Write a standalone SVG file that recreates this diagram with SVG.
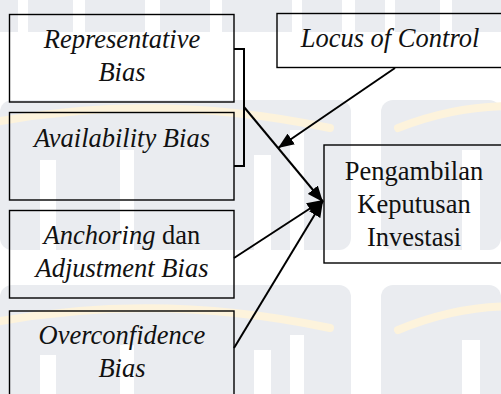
<svg xmlns="http://www.w3.org/2000/svg" width="501" height="394" viewBox="0 0 501 394">
  <style>
    .box { fill: none; stroke: #000; stroke-width: 1.4; }
    .wire { fill: none; stroke: #000; stroke-width: 2; }
    .t { font-family: 'Liberation Serif', 'Times New Roman', serif; font-size: 26.5px; fill: #111; text-anchor: middle; }
    .i { font-style: italic; }
    .wm { fill: #eaecf0; }
    .wmw { fill: #ffffff; }
    .arc { fill: none; stroke: #fdf3dc; stroke-width: 8; stroke-linecap: round; }
  </style>
  <defs>
    <marker id="head" markerUnits="userSpaceOnUse" markerWidth="16" markerHeight="13" refX="16" refY="6.5" orient="auto">
      <path d="M0,0 L16,6.5 L0,13 z" fill="#000"/>
    </marker>
  </defs>

  <!-- faint background watermark -->
  <g id="watermark">
    <rect width="501" height="394" fill="#ffffff"/>
    <!-- top bars -->
    <rect class="wm" x="0" y="0" width="18" height="32"/>
    <rect class="wm" x="28" y="0" width="45" height="32"/>
    <rect class="wm" x="85" y="0" width="60" height="32"/>
    <rect class="wm" x="160" y="0" width="50" height="32"/>
    <rect class="wm" x="222" y="0" width="70" height="32"/>
    <rect class="wm" x="302" y="0" width="40" height="32"/>
    <rect class="wm" x="355" y="0" width="30" height="32"/>
    <rect class="wm" x="395" y="0" width="45" height="32"/>
    <rect class="wm" x="452" y="0" width="49" height="32"/>
    <!-- middle row -->
    <rect class="wm" x="0" y="100" width="351" height="150" rx="12"/>
    <rect class="wm" x="381" y="100" width="120" height="150" rx="12"/>
    <rect class="wmw" x="40" y="160" width="16" height="90"/>
    <rect class="wmw" x="120" y="150" width="14" height="100"/>
    <rect class="wmw" x="254" y="155" width="17" height="95"/>
    <rect class="wmw" x="290" y="130" width="14" height="120"/>
    <rect class="wmw" x="462" y="150" width="18" height="100"/>
    <!-- bottom row -->
    <rect class="wm" x="0" y="285" width="351" height="120" rx="12"/>
    <rect class="wm" x="381" y="285" width="120" height="120" rx="12"/>
    <rect class="wmw" x="40" y="355" width="16" height="40"/>
    <rect class="wmw" x="120" y="345" width="14" height="50"/>
    <rect class="wmw" x="254" y="350" width="17" height="45"/>
    <rect class="wmw" x="290" y="335" width="14" height="60"/>
    <rect class="wmw" x="462" y="340" width="18" height="55"/>
    <!-- arcs -->
    <path class="arc" d="M-20,125 Q150,90 330,128"/>
    <path class="arc" d="M398,128 Q470,100 540,108"/>
    <path class="arc" d="M-20,325 Q150,290 330,328"/>
    <path class="arc" d="M398,330 Q470,300 540,308"/>
  </g>

  <g id="connectors">
    <path class="wire" d="M234,49 H244 V166 H234"/>
    <line class="wire" x1="395" y1="68" x2="278" y2="148" marker-end="url(#head)"/>
    <line class="wire" x1="244" y1="107" x2="323" y2="202" marker-end="url(#head)"/>
    <line class="wire" x1="234" y1="258" x2="323" y2="200" marker-end="url(#head)"/>
    <line class="wire" x1="234" y1="348" x2="323" y2="201" marker-end="url(#head)"/>
  </g>

  <g id="representative">
    <rect class="box" x="9.5" y="14.5" width="224.5" height="87.5"/>
    <text class="t i" x="122" y="48">Representative</text>
    <text class="t i" x="122" y="81">Bias</text>
  </g>

  <g id="availability">
    <rect class="box" x="9.5" y="112.5" width="224.5" height="87.5"/>
    <text class="t i" x="122" y="147">Availability Bias</text>
  </g>

  <g id="anchoring">
    <rect class="box" x="9.5" y="210.5" width="224.5" height="87.5"/>
    <text class="t" x="122" y="244"><tspan class="i">Anchoring</tspan> dan</text>
    <text class="t i" x="122" y="277">Adjustment Bias</text>
  </g>

  <g id="overconfidence">
    <rect class="box" x="9.5" y="311" width="224.5" height="100"/>
    <text class="t i" x="122" y="344">Overconfidence</text>
    <text class="t i" x="122" y="377">Bias</text>
  </g>

  <g id="locus">
    <rect class="box" x="277" y="13.5" width="240" height="54"/>
    <text class="t i" x="390" y="47">Locus of Control</text>
  </g>

  <g id="keputusan">
    <rect class="box" x="324" y="145" width="200" height="118"/>
    <text class="t" x="414" y="180">Pengambilan</text>
    <text class="t" x="414" y="213">Keputusan</text>
    <text class="t" x="414" y="246">Investasi</text>
  </g>
</svg>
